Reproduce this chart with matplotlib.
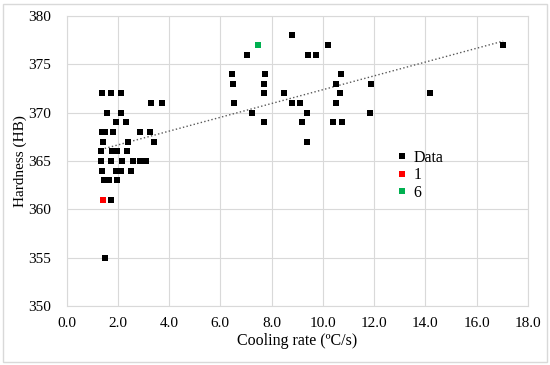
import matplotlib.pyplot as plt
import numpy as np
from matplotlib.patches import Rectangle

plt.rcParams['font.family'] = ['Liberation Serif', 'DejaVu Serif']

# cooling rate (ºC/s) and hardness (HB), series "Data"
data_x = [1.39, 1.74, 2.14, 3.31, 3.74, 1.58, 2.11, 1.91, 2.31,
          1.37, 1.50, 1.83, 2.85, 3.25, 1.43, 2.40, 3.40,
          1.35, 1.76, 1.95, 2.37, 1.36, 1.72, 2.18, 2.60, 2.85, 3.10,
          1.39, 1.92, 2.11, 2.53, 1.47, 1.66, 1.97, 1.72, 1.50,
          8.78, 10.2, 17.03, 7.05, 9.40, 9.73, 6.46, 7.73, 10.7,
          6.48, 7.69, 10.5, 11.87, 7.70, 8.47, 10.66, 14.16,
          6.54, 8.80, 9.12, 10.5, 7.25, 9.38, 11.84,
          7.70, 9.20, 10.41, 10.75, 9.36]
data_y = [372, 372, 372, 371, 371, 370, 370, 369, 369,
          368, 368, 368, 368, 368, 367, 367, 367,
          366, 366, 366, 366, 365, 365, 365, 365, 365, 365,
          364, 364, 364, 364, 363, 363, 363, 361, 355,
          378, 377, 377, 376, 376, 376, 374, 374, 374,
          373, 373, 373, 373, 372, 372, 372, 372,
          371, 371, 371, 371, 370, 370, 370,
          369, 369, 369, 369, 367]

# highlighted samples
s1_x, s1_y = [1.43], [361]
s6_x, s6_y = [7.45], [377]

fig = plt.figure(figsize=(5.5, 3.65), dpi=100)
ax = fig.add_axes([0.121, 0.162, 0.839, 0.794])

ms = 4.6
ax.plot(data_x, data_y, 's', color='black', ms=ms, mew=0, label='Data', zorder=3)
ax.plot(s1_x, s1_y, 's', color='#ff0000', ms=ms, mew=0, label='1', zorder=3)
ax.plot(s6_x, s6_y, 's', color='#00b050', ms=ms, mew=0, label='6', zorder=3)

# linear trendline over the Data series
k, b = np.polyfit(data_x, data_y, 1)
tx = np.array([min(data_x), max(data_x)])
ax.plot(tx, k * tx + b, ':', color='#595959', lw=1.0, zorder=2)

ax.set_xlim(0, 18)
ax.set_ylim(350, 380)
ax.set_xticks(np.arange(0, 18.1, 2))
ax.set_xticklabels([f'{v:.1f}' for v in np.arange(0, 18.1, 2)])
ax.set_yticks(np.arange(350, 381, 5))
ax.grid(True, color='#d9d9d9', lw=0.8)
ax.set_axisbelow(True)
for sp in ax.spines.values():
    sp.set_color('#d9d9d9')
    sp.set_linewidth(0.8)
ax.tick_params(length=0, labelsize=11)
ax.tick_params(axis='x', pad=8)
ax.tick_params(axis='y', pad=11)

ax.set_xlabel('Cooling rate (ºC/s)', fontsize=11.5, labelpad=2)
ax.set_ylabel('Hardness (HB)', fontsize=11, labelpad=1)

ax.legend(loc='upper left', bbox_to_anchor=(0.693, 0.566), frameon=False,
          fontsize=11.5, handletextpad=0.2, handlelength=1.0, borderpad=0,
          labelspacing=0.1, markerscale=1.0)

fig.patches.append(Rectangle((0.006, 0.008), 0.988, 0.982, transform=fig.transFigure,
                             fill=False, edgecolor='#d9d9d9', lw=1))

fig.savefig('out.png', dpi=100)
